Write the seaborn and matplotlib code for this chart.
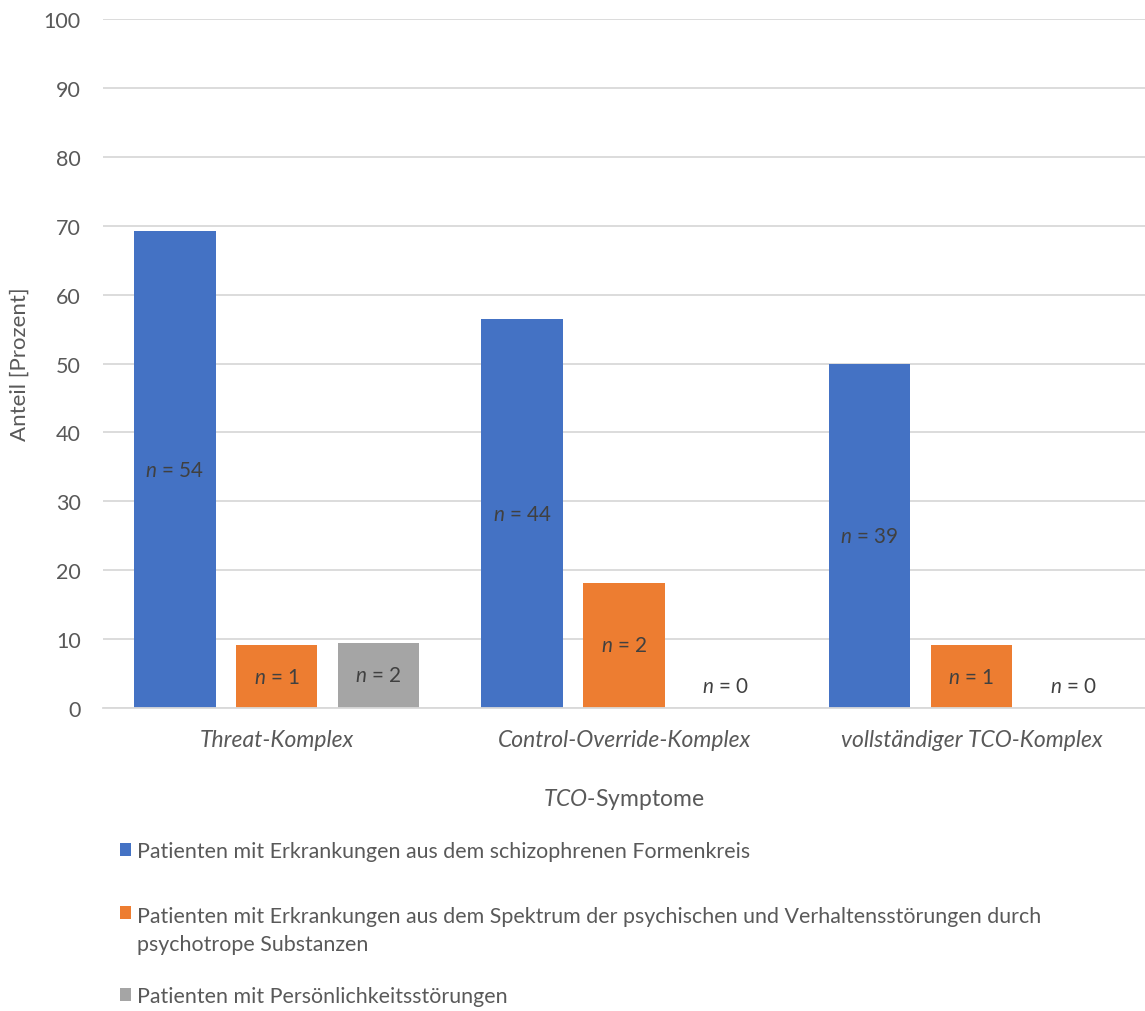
import pandas as pd
import seaborn as sns
import matplotlib.pyplot as plt

# data
categories = ["Threat-Komplex", "Control-Override-Komplex", "vollständiger TCO-Komplex"]
groups = [
    "Patienten mit Erkrankungen aus dem schizophrenen Formenkreis",
    "Patienten mit Erkrankungen aus dem Spektrum der psychischen und Verhaltensstörungen durch\npsychotrope Substanzen",
    "Patienten mit Persönlichkeitsstörungen",
]
schizo = [69.2, 56.4, 50.0]
sucht = [9.1, 18.2, 9.1]
persoenlich = [9.5, 0.0, 0.0]
n_schizo = [54, 44, 39]
n_sucht = [1, 2, 1]
n_persoenlich = [2, 0, 0]
colors = ["#4472C4", "#ED7D31", "#A5A5A5"]
text_color = "#595959"
grid_color = "#D9D9D9"

rows = []
for g, vals in zip(groups, [schizo, sucht, persoenlich]):
    for c, v in zip(categories, vals):
        rows.append({"Komplex": c, "Anteil": v, "Gruppe": g})
df = pd.DataFrame(rows)
counts = [n_schizo, n_sucht, n_persoenlich]

sns.set_style("white")
plt.rcParams["font.family"] = ["Lato", "DejaVu Sans"]
plt.rcParams["mathtext.fontset"] = "custom"
plt.rcParams["mathtext.rm"] = "Lato"
plt.rcParams["mathtext.it"] = "Lato:italic"
plt.rcParams["text.color"] = text_color

fig = plt.figure(figsize=(11.45, 10.12), dpi=100)
ax = fig.add_axes([0.09, 0.2994, 0.91, 0.6808])

sns.barplot(data=df, x="Komplex", y="Anteil", hue="Gruppe", palette=colors,
            saturation=1, width=0.88, gap=0.2, linewidth=0, ax=ax)

# n labels in the middle of each bar
for cont, ns in zip(ax.containers, counts):
    for bar, n in zip(cont, ns):
        h = bar.get_height()
        y = h / 2 if h > 6 else 3.2
        ax.text(bar.get_x() + bar.get_width() / 2, y, r"$\mathit{n}$ = " + str(n),
                ha="center", va="center", fontsize=14.9, color="#404040")

handles, labels = ax.get_legend_handles_labels()
ax.get_legend().remove()

ax.set_ylim(0, 100)
ax.set_xlim(-0.5, 2.5)
ax.set_yticks(range(0, 101, 10))
ax.yaxis.grid(True, color=grid_color, linewidth=1.3)
ax.set_axisbelow(True)
for s in ["top", "right", "left"]:
    ax.spines[s].set_visible(False)
ax.spines["bottom"].set_color(grid_color)
ax.spines["bottom"].set_linewidth(1.3)
ax.tick_params(axis="y", length=0, labelsize=15.5, labelcolor=text_color, pad=16)
ax.tick_params(axis="x", length=0, labelsize=16.5, labelcolor=text_color, pad=15)
for t in ax.get_xticklabels():
    t.set_fontstyle("italic")

ax.set_ylabel("Anteil [Prozent]", fontsize=16, color=text_color, labelpad=10)
ax.set_xlabel(r"$\mathit{TCO}$-Symptome", fontsize=16.5, color=text_color, labelpad=26)

# one legend per entry, stacked below the plot
legend_y = [0.158, 0.080, 0.0148]
for hnd, lab, ly in zip(handles, labels, legend_y):
    multi = "\n" in lab
    leg = fig.legend([hnd], [lab], loc="center left", bbox_to_anchor=(0.1048, ly),
                     frameon=False, fontsize=15.4, handlelength=0.5, handleheight=0.5,
                     handletextpad=0.3, borderpad=0, borderaxespad=0)
    for t in leg.get_texts():
        t.set_color(text_color)
        t.set_linespacing(1.45)
    if multi:
        # put the square next to the first line of a wrapped label
        for col in leg._legend_handle_box.get_children():
            for row in col.get_children():
                row.align = "top"

plt.savefig("out.png", dpi=100)
plt.close()
